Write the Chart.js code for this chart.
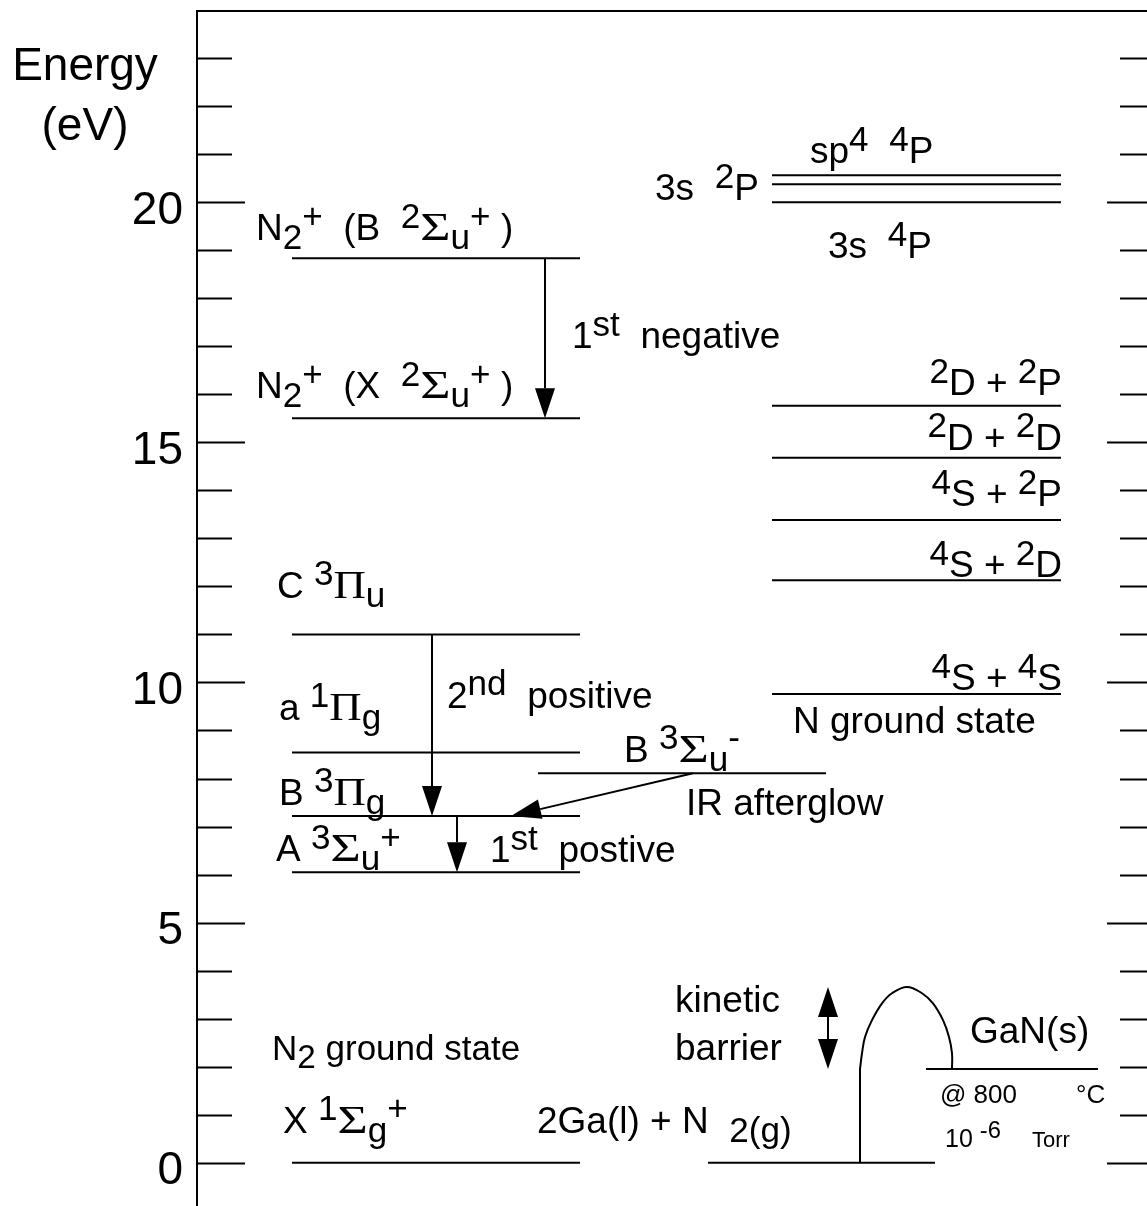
<!DOCTYPE html>
<html>
<head>
<meta charset="utf-8">
<title>N2 energy levels and GaN formation</title>
<script src="https://cdn.jsdelivr.net/npm/chart.js@4/dist/chart.umd.min.js"></script>
<style>
  html, body { margin: 0; padding: 0; background: #fff; overflow: hidden; }
  #wrap { width: 1147px; height: 1206px; position: relative; }
</style>
</head>
<body>
<div id="wrap"><canvas id="chart" width="1147" height="1206"></canvas></div>
<script>
// ---- energy levels (eV) ----
const molecularStates = ['X 1Σg+', 'A 3Σu+', 'B 3Πg', 'a 1Πg', 'C 3Πu', 'N2+ X 2Σu+', 'N2+ B 2Σu+'];
const molecularEnergy = [0, 6.05, 7.22, 8.54, 11.0, 15.50, 18.83];

const tripletStates = ['B 3Σu-'];
const tripletEnergy = [8.11];

const atomicStates = ['4S + 4S', '4S + 2D', '4S + 2P', '2D + 2D', '2D + 2P', '3s 4P', '3s 2P', 'sp4 4P'];
const atomicEnergy = [9.76, 12.13, 13.38, 14.68, 15.76, 20.0, 20.375, 20.56];

const growthStates = ['2Ga(l) + N2(g)', 'GaN(s)'];
const growthEnergy = [0, 1.95];
const barrierTop = 3.66;

// barrier profile: position along the reaction column, energy (eV)
const barrierX = [66.3, 66.5, 66.8, 67.5, 68.5, 69.5, 71.0, 72.5, 73.6, 74.6, 75.2, 75.5, 75.5];
const barrierE = [1.95, 2.28, 2.62, 2.97, 3.32, 3.53, 3.66, 3.53, 3.32, 2.97, 2.62, 2.28, 1.95];

// radiative transitions (upper -> lower, eV)
const transitionNames = ['1st negative', '2nd positive', '1st positive', 'IR afterglow'];
const transitionUpper = [molecularEnergy[6], molecularEnergy[4], molecularEnergy[2], tripletEnergy[0]];
const transitionLower = [molecularEnergy[5], molecularEnergy[2], molecularEnergy[1], molecularEnergy[2]];

// energy axis ticks
const energyTicks = [0, 1, 2, 3, 4, 5, 6, 7, 8, 9, 10, 11, 12, 13, 14, 15, 16, 17, 18, 19, 20, 21, 22, 23];
const labeledTicks = [0, 5, 10, 15, 20];

// ---- layout (horizontal columns, arrow placement, label anchors) ----
const SANS = '"Liberation Sans", Arial, Helvetica, sans-serif';
const SERIF = '"Liberation Serif", "Times New Roman", serif';

const cols = {
  molecule: [9.5, 38.3],
  triplet: [34.1, 62.9],
  atom: [57.5, 86.4],
  liquid: [51.1, 73.8],
  solid: [72.9, 90.1]
};
const arrowX = [[34.8, 34.8], [23.5, 23.5], [26.0, 26.0], [49.6, 31.4]];
const barrierArrowX = 63.1;

const labels = [
  { s: 'N_2^+  (B  ^2Σ_u^+ )', x: 5.9, e: 19.21 },
  { s: 'N_2^+  (X  ^2Σ_u^+ )', x: 5.9, e: 15.92 },
  { s: '1^{st}  negative', x: 37.5, e: 16.96 },
  { s: 'C ^3Π_u', x: 8.0, e: 11.76 },
  { s: 'a ^1Π_g', x: 8.2, e: 9.22 },
  { s: '2^{nd}  positive', x: 25.0, e: 9.47 },
  { s: 'B ^3Π_g', x: 8.2, e: 7.45 },
  { s: 'A ^3Σ_u^+', x: 7.9, e: 6.28 },
  { s: '1^{st}  postive', x: 29.3, e: 6.26 },
  { s: 'B ^3Σ_u^-', x: 42.7, e: 8.35 },
  { s: 'IR afterglow', x: 48.9, e: 7.24 },
  { s: 'N ground state', x: 59.6, e: 8.94 },
  { s: 'N_2 ground state', x: 7.5, e: 2.14, size: 35 },
  { s: 'X ^1Σ_g^+', x: 8.6, e: 0.62 },
  { s: '2Ga(l) + N  _{2(g)}', x: 34.0, e: 0.62 },
  { s: 'kinetic', x: 47.8, e: 3.14 },
  { s: 'barrier', x: 47.8, e: 2.14 },
  { s: 'GaN(s)', x: 77.3, e: 2.49 },
  { s: '@ 800', x: 74.3, e: 1.24, size: 26 },
  { s: '°C', x: 87.9, e: 1.24, size: 26 },
  { s: '10 ^{-6}', x: 74.8, e: 0.33, size: 25 },
  { s: 'Torr', x: 83.5, e: 0.33, size: 22 },
  { s: 'sp^4  ^4P', x: 61.3, e: 20.81 },
  { s: '3s  ^2P', x: 45.8, e: 20.04 },
  { s: '3s  ^4P', x: 63.1, e: 18.83 },
  { s: '^2D + ^2P', x: 86.5, e: 15.98, align: 'right' },
  { s: '^2D + ^2D', x: 86.5, e: 14.84, align: 'right' },
  { s: '^4S + ^2P', x: 86.5, e: 13.67, align: 'right' },
  { s: '^4S + ^2D', x: 86.5, e: 12.19, align: 'right' },
  { s: '^4S + ^4S', x: 86.5, e: 9.84, align: 'right' },
  { s: 'Energy', x: -11.2, e: 22.54, size: 46, align: 'center' },
  { s: '(eV)', x: -11.2, e: 21.29, size: 46, align: 'center' }
];

// Greek capitals are set in a wide serif face
const greekStretch = { 'Σ': 1.3, 'Π': 1.12 };

// ---- rich text: ^ raises, _ lowers ----
function pieces(str) {
  const out = [];
  const push = (t, k) => {
    t.split(/([ΣΠ])/).forEach(part => { if (part) out.push({ t: part, k, g: greekStretch[part] || 0 }); });
  };
  let i = 0;
  while (i < str.length) {
    const c = str[i];
    if (c === '^' || c === '_') {
      let t;
      if (str[i + 1] === '{') { const j = str.indexOf('}', i); t = str.slice(i + 2, j); i = j + 1; }
      else { t = str[i + 1]; i += 2; }
      push(t, c === '^' ? 1 : -1);
    } else {
      let j = i;
      while (j < str.length && str[j] !== '^' && str[j] !== '_') j++;
      push(str.slice(i, j), 0);
      i = j;
    }
  }
  return out;
}

function drawRich(ctx, str, x, y, size, align) {
  const ps = pieces(str);
  const fontOf = p => {
    const s = (p.k ? 0.95 : 1) * size * (p.g ? 1.08 : 1);
    return s.toFixed(1) + 'px ' + (p.g ? SERIF : SANS);
  };
  let w = 0;
  ps.forEach(p => { ctx.font = fontOf(p); p.w = ctx.measureText(p.t).width * (p.g || 1); w += p.w; });
  let cx = align === 'right' ? x - w : align === 'center' ? x - w / 2 : x;
  ps.forEach(p => {
    ctx.font = fontOf(p);
    const dy = p.k === 1 ? -0.34 * size : p.k === -1 ? 0.24 * size : 0;
    if (p.g) {
      ctx.save();
      ctx.translate(cx, y + dy);
      ctx.scale(p.g, 1);
      ctx.fillText(p.t, 0, 0);
      ctx.restore();
    } else {
      ctx.fillText(p.t, cx, y + dy);
    }
    cx += p.w;
  });
}

function arrowHead(ctx, tx, ty, fx, fy, len, half) {
  const a = Math.atan2(ty - fy, tx - fx);
  const bx = tx - len * Math.cos(a), by = ty - len * Math.sin(a);
  ctx.beginPath();
  ctx.moveTo(tx, ty);
  ctx.lineTo(bx + half * Math.sin(a), by - half * Math.cos(a));
  ctx.lineTo(bx - half * Math.sin(a), by + half * Math.cos(a));
  ctx.closePath();
  ctx.fill();
  return [bx, by];
}

function arrow(ctx, x0, y0, x1, y1, len, half) {
  const [bx, by] = arrowHead(ctx, x1, y1, x0, y0, len, half);
  ctx.beginPath();
  ctx.moveTo(x0, y0);
  ctx.lineTo(bx, by);
  ctx.stroke();
}

const decor = {
  id: 'decor',
  afterDatasetsDraw(chart) {
    const { ctx, chartArea, scales: { x, y } } = chart;
    ctx.save();
    ctx.strokeStyle = '#000';
    ctx.fillStyle = '#000';
    ctx.lineWidth = 2;

    // inward tick marks on both sides of the energy axis, values on the left
    energyTicks.forEach(v => {
      const p = Math.round(y.getPixelForValue(v)) + 0.5;
      const major = labeledTicks.includes(v);
      ctx.beginPath();
      ctx.moveTo(chartArea.left, p); ctx.lineTo(chartArea.left + (major ? 48 : 35), p);
      ctx.moveTo(chartArea.right - (major ? 40 : 27), p); ctx.lineTo(chartArea.right, p);
      ctx.stroke();
    });
    ctx.font = '46px ' + SANS;
    ctx.textAlign = 'right';
    ctx.textBaseline = 'middle';
    labeledTicks.forEach(v => ctx.fillText(String(v), chartArea.left - 14, y.getPixelForValue(v) + 9));

    // transitions
    transitionUpper.forEach((eu, i) => {
      const [xa, xb] = arrowX[i];
      arrow(ctx, x.getPixelForValue(xa), y.getPixelForValue(eu),
        x.getPixelForValue(xb), y.getPixelForValue(transitionLower[i]), 30, 10);
    });

    // kinetic barrier height (double headed)
    const bx = x.getPixelForValue(barrierArrowX);
    const yTop = y.getPixelForValue(barrierTop), yBot = y.getPixelForValue(growthEnergy[1]);
    const [, t1] = arrowHead(ctx, bx, yTop, bx, yBot, 30, 10);
    const [, t2] = arrowHead(ctx, bx, yBot, bx, yTop, 30, 10);
    ctx.beginPath(); ctx.moveTo(bx, t1); ctx.lineTo(bx, t2); ctx.stroke();

    // labels
    ctx.textBaseline = 'alphabetic';
    ctx.textAlign = 'left';
    labels.forEach(l => drawRich(ctx, l.s, x.getPixelForValue(l.x), y.getPixelForValue(l.e), l.size || 37, l.align || 'left'));
    ctx.restore();
  }
};

function seg(x0, x1, y0, y1) {
  return {
    data: [{ x: x0, y: y0 }, { x: x1, y: y1 }],
    borderColor: '#000', borderWidth: 2, showLine: true, pointRadius: 0, tension: 0
  };
}

const datasets = [];
molecularEnergy.forEach(e => datasets.push(seg(cols.molecule[0], cols.molecule[1], e, e)));
tripletEnergy.forEach(e => datasets.push(seg(cols.triplet[0], cols.triplet[1], e, e)));
atomicEnergy.forEach(e => datasets.push(seg(cols.atom[0], cols.atom[1], e, e)));
datasets.push(seg(cols.liquid[0], cols.liquid[1], growthEnergy[0], growthEnergy[0]));
datasets.push(seg(cols.solid[0], cols.solid[1], growthEnergy[1], growthEnergy[1]));
datasets.push(seg(barrierX[0], barrierX[0], growthEnergy[0], growthEnergy[1]));
datasets.push({
  data: barrierX.map((bx, i) => ({ x: bx, y: barrierE[i] })),
  borderColor: '#000', borderWidth: 2, showLine: true, pointRadius: 0, tension: 0.4
});

new Chart(document.getElementById('chart'), {
  type: 'scatter',
  data: { datasets },
  options: {
    responsive: false,
    animation: false,
    events: [],
    layout: { padding: 0 },
    plugins: { legend: { display: false }, tooltip: { enabled: false } },
    scales: {
      x: {
        type: 'linear', position: 'top', min: 0, max: 95,
        grid: { display: false, drawTicks: false },
        ticks: { display: false },
        border: { display: true, color: '#000', width: 2 },
        afterFit: s => { s.height = 11; }
      },
      y: {
        type: 'linear', position: 'left', min: -0.9, max: 23.98,
        grid: { display: false, drawTicks: false, tickLength: 0 },
        border: { display: true, color: '#000', width: 2 },
        ticks: { display: false },
        afterBuildTicks: s => { s.ticks = energyTicks.map(v => ({ value: v })); },
        afterFit: s => { s.width = 197; }
      }
    }
  },
  plugins: [decor]
});
</script>
</body>
</html>
